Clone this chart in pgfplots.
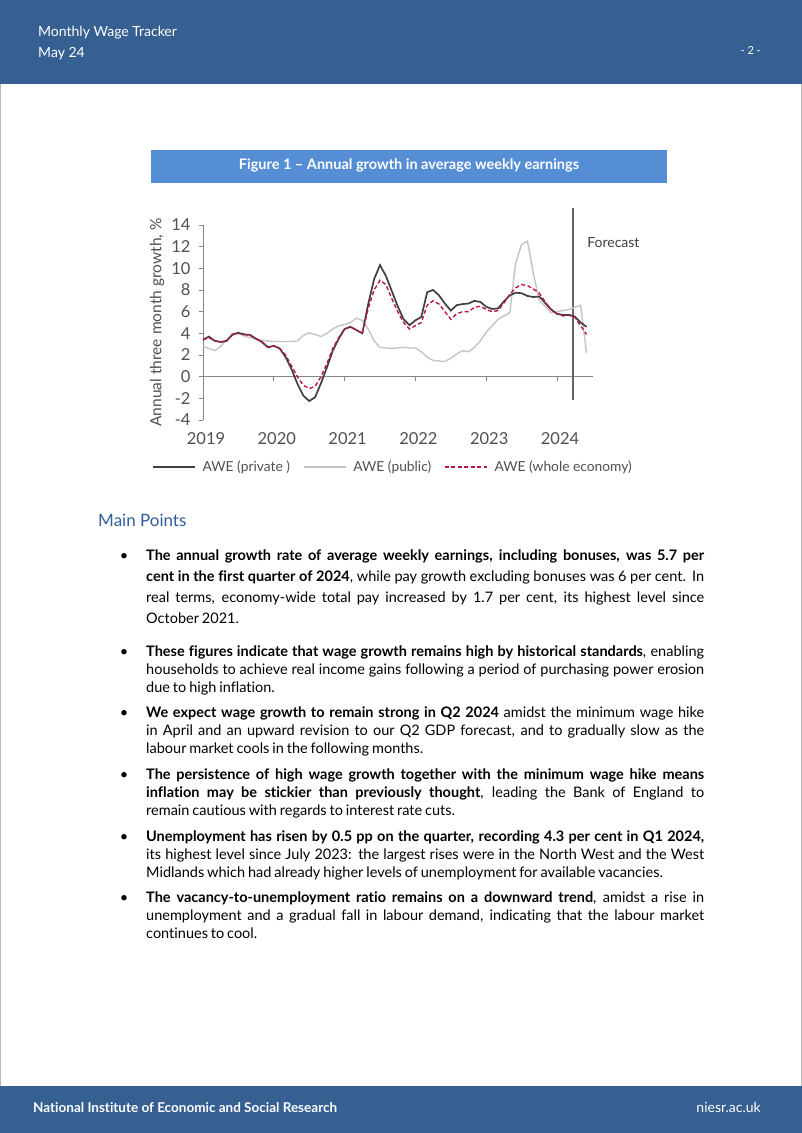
\documentclass[border=0pt]{standalone}
\usepackage{pgfplots}
\pgfplotsset{compat=1.18}
\usepackage{pgfplotstable}
\usepackage{fontspec}
\setmainfont{Lato}[Ligatures=NoCommon]
\definecolor{hdr}{HTML}{366092}
\definecolor{figbox}{HTML}{558ED5}
\definecolor{mp}{HTML}{2F5D99}
\definecolor{priv}{HTML}{404040}
\definecolor{pub}{HTML}{C4C4C4}
\definecolor{whole}{HTML}{C0134A}
\definecolor{txtgrey}{HTML}{505050}
\definecolor{axgrey}{HTML}{868686}

\pgfplotstableread{
m private public whole
0 3.4 2.8 3.4
1 3.7 2.6 3.6
2 3.3 2.4 3.3
3 3.2 2.8 3.2
4 3.3 3.4 3.3
5 3.9 3.8 3.9
6 4.05 4.0 4.0
7 3.9 3.75 3.9
8 3.85 3.6 3.8
9 3.5 3.45 3.5
10 3.2 3.35 3.2
11 2.7 3.3 2.75
12 2.85 3.25 2.85
13 2.6 3.25 2.6
14 1.8 3.25 2.0
15 0.7 3.25 1.0
16 -0.65 3.3 0.0
17 -1.75 3.8 -0.8
18 -2.25 4.05 -1.1
19 -1.9 3.9 -0.9
20 -0.6 3.7 0.0
21 0.85 4.0 1.2
22 2.4 4.4 2.6
23 3.5 4.7 3.6
24 4.4 4.8 4.4
25 4.6 5.0 4.6
26 4.3 5.4 4.3
27 4.0 5.2 4.0
28 6.7 4.4 6.3
29 9.0 3.3 8.0
30 10.3 2.7 8.9
31 9.3 2.65 8.5
32 7.9 2.6 7.2
33 6.5 2.65 6.0
34 5.3 2.7 5.0
35 4.75 2.65 4.4
36 5.2 2.65 4.7
37 5.5 2.3 5.0
38 7.8 1.8 6.6
39 8.0 1.5 7.0
40 7.5 1.45 6.7
41 6.75 1.4 6.0
42 6.1 1.7 5.3
43 6.6 2.1 5.8
44 6.7 2.4 6.0
45 6.75 2.3 6.0
46 7.0 2.7 6.4
47 6.9 3.3 6.5
48 6.45 4.1 6.2
49 6.25 4.7 6.0
50 6.3 5.3 6.1
51 6.95 5.6 6.8
52 7.5 5.9 7.6
53 7.75 10.5 8.2
54 7.7 12.2 8.5
55 7.45 12.5 8.4
56 7.35 9.5 8.1
57 7.4 7.0 7.7
58 6.8 6.5 6.9
59 6.2 5.9 6.2
60 5.8 6.0 5.8
61 5.7 6.1 5.6
62 5.7 6.2 5.7
63 5.55 6.4 5.5
64 5.0 6.6 4.7
65 4.6 2.2 3.9
}\awe

\newcommand{\bpar}[2]{\parbox[t]{558pt}{\fontsize{14.5}{#1}\selectfont\spaceskip=0.2em plus 0.6em minus 0.1em\relax #2}}

\begin{document}
\begin{tikzpicture}[x=1pt,y=1pt]
\useasboundingbox (0,0) rectangle (802,1133);
\fill[white] (0,0) rectangle (802,1133);
% page border
\draw[gray!55, line width=0.8pt] (0.4,47) -- (0.4,1049);
\draw[gray!55, line width=0.8pt] (801.6,47) -- (801.6,1049);
% header
\fill[hdr] (0,1049) rectangle (802,1133);
\node[anchor=base west, inner sep=0, text=white, font=\fontsize{14}{16}\selectfont] at (38,1096) {Monthly Wage Tracker};
\node[anchor=base west, inner sep=0, text=white, font=\fontsize{14}{16}\selectfont] at (38,1075) {May 24};
\node[anchor=base east, inner sep=0, text=white, font=\fontsize{11}{13}\selectfont] at (761,1078) {- 2 -};
% footer
\fill[hdr] (0,0) rectangle (802,47);
\node[anchor=base west, inner sep=0, text=white, font=\fontsize{13.5}{15}\selectfont\bfseries] at (33,20) {National Institute of Economic and Social Research};
\node[anchor=base east, inner sep=0, text=white, font=\fontsize{14}{15}\selectfont] at (761,20) {niesr.ac.uk};
% figure title
\fill[figbox] (151,950) rectangle (667,983);
\node[anchor=base, inner sep=0, text=white, font=\fontsize{14.5}{16}\selectfont\bfseries] at (409,963) {Figure 1 – Annual growth in average weekly earnings};

\begin{axis}[
  at={(203pt,713pt)}, anchor=south west,
  scale only axis, width=390pt, height=195pt,
  xmin=0, xmax=66.1, ymin=-4, ymax=14,
  axis y line=left, axis x line=bottom,
  x axis line style={draw=none},
  y axis line style={draw=axgrey, line width=0.8pt, -},
  xtick={0,12,24,36,48,60},
  xticklabels={2019,2020,2021,2022,2023,2024},
  xtick style={draw=none},
  ytick={-4,-2,...,14},
  ytick style={draw=axgrey, line width=0.8pt},
  tick align=outside, major tick length=4pt,
  /pgf/number format/assume math mode=true,
  ticklabel style={font=\fontsize{16.5}{16}\selectfont, text=txtgrey},
  xticklabel style={yshift=-5pt, xshift=3pt},
  yticklabel style={xshift=-5pt},
  ylabel={Annual three month growth, \%},
  ylabel style={font=\fontsize{15.5}{16}\selectfont, text=txtgrey, at={(axis description cs:-0.118,0.5)}, anchor=center},
  clip=false,
  legend style={at={(axis description cs:0.487,-0.241)}, anchor=center, draw=none, fill=none,
    legend columns=3, font=\fontsize{13.8}{14}\selectfont, text=txtgrey,
    /tikz/every odd column/.append style={column sep=5pt},
    /tikz/every even column/.append style={column sep=11pt}, inner sep=0pt},
  legend image code/.code={\draw[#1] (0pt,0pt) -- (42pt,0pt);},
]
\draw[axgrey, line width=0.8pt] (axis cs:0,0) -- (axis cs:66.1,0);
\draw[axgrey, line width=0.8pt] (axis cs:12,0) -- ++(0pt,-4pt);
\draw[axgrey, line width=0.8pt] (axis cs:24,0) -- ++(0pt,-4pt);
\draw[axgrey, line width=0.8pt] (axis cs:36,0) -- ++(0pt,-4pt);
\draw[axgrey, line width=0.8pt] (axis cs:48,0) -- ++(0pt,-4pt);
\draw[axgrey, line width=0.8pt] (axis cs:60,0) -- ++(0pt,-4pt);
\draw[priv!80, line width=1.2pt] (axis cs:62.7,15.6) -- (axis cs:62.7,-2.15);
\node[anchor=west, inner sep=0, font=\fontsize{14}{14}\selectfont, text=priv] at (axis cs:65.1,12.4) {Forecast};
\addplot[pub, line width=1.4pt, forget plot] table[x=m,y=public]{\awe};
\addplot[priv, line width=1.7pt] table[x=m,y=private]{\awe};
\addlegendentry{AWE (private )}
\addlegendimage{pub, line width=1.4pt}
\addlegendentry{AWE (public)}
\addplot[whole, line width=1.4pt, dash pattern=on 4pt off 2.5pt] table[x=m,y=whole]{\awe};
\addlegendentry{AWE (whole economy)}
\end{axis}

% Main points
\node[anchor=base west, inner sep=0, text=mp, font=\fontsize{17}{19}\selectfont] at (98,606) {Main Points};

\node[anchor=base, inner sep=0, font=\fontsize{14.5}{18}\selectfont] at (124,572) {•};
\node[anchor=base west, inner sep=0] at (146,572) {\bpar{21}{\textbf{The annual growth rate of average weekly earnings, including bonuses, was 5.7 per}\linebreak \textbf{cent in the first quarter of 2024}, while pay growth excluding bonuses was 6 per cent. In\linebreak real terms, economy-wide total pay increased by 1.7 per cent, its highest level since\linebreak October 2021.}};

\node[anchor=base, inner sep=0, font=\fontsize{14.5}{18}\selectfont] at (124,476) {•};
\node[anchor=base west, inner sep=0] at (146,476) {\bpar{18}{\textbf{These figures indicate that wage growth remains high by historical standards}, enabling\linebreak households to achieve real income gains following a period of purchasing power erosion\linebreak due to high inflation.}};

\node[anchor=base, inner sep=0, font=\fontsize{14.5}{18}\selectfont] at (124,415) {•};
\node[anchor=base west, inner sep=0] at (146,415) {\bpar{18}{\textbf{We expect wage growth to remain strong in Q2 2024} amidst the minimum wage hike\linebreak in April and an upward revision to our Q2 GDP forecast, and to gradually slow as the\linebreak labour market cools in the following months.}};

\node[anchor=base, inner sep=0, font=\fontsize{14.5}{18}\selectfont] at (124,353) {•};
\node[anchor=base west, inner sep=0] at (146,353) {\bpar{18}{\textbf{The persistence of high wage growth together with the minimum wage hike means}\linebreak \textbf{inflation may be stickier than previously thought}, leading the Bank of England to\linebreak remain cautious with regards to interest rate cuts.}};

\node[anchor=base, inner sep=0, font=\fontsize{14.5}{18}\selectfont] at (124,291) {•};
\node[anchor=base west, inner sep=0] at (146,291) {\bpar{18}{\textbf{Unemployment has risen by 0.5 pp on the quarter, recording 4.3 per cent in Q1 2024,}\linebreak its highest level since July 2023: the largest rises were in the North West and the West\linebreak Midlands which had already higher levels of unemployment for available vacancies.}};

\node[anchor=base, inner sep=0, font=\fontsize{14.5}{18}\selectfont] at (124,230) {•};
\node[anchor=base west, inner sep=0] at (146,230) {\bpar{18}{\textbf{The vacancy-to-unemployment ratio remains on a downward trend}, amidst a rise in\linebreak unemployment and a gradual fall in labour demand, indicating that the labour market\linebreak continues to cool.}};
\end{tikzpicture}
\end{document}
